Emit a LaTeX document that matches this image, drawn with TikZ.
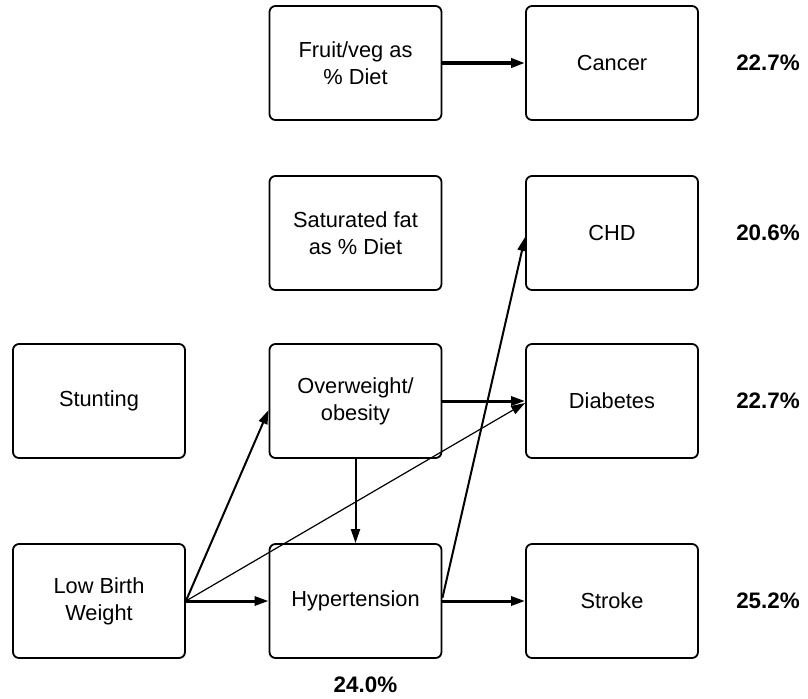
\documentclass[tikz,border=0pt]{standalone}
\usepackage{fontspec}
\setmainfont{Liberation Sans}
\usetikzlibrary{arrows.meta,positioning,calc}

\begin{document}
\begin{tikzpicture}[box/.style={draw, line width=0.9pt, rounded corners=3pt, minimum width=86pt, minimum height=57pt, align=center, font=\fontsize{10.9}{13.5}\selectfont}, pct/.style={font=\bfseries\fontsize{11.2}{13}\selectfont}, on grid, node distance=128.25pt, >={Triangle[length=7pt,width=4.5pt]}]
  \useasboundingbox (0,0) rectangle (404pt,-349pt);
  % Boxes, column by column from the top
  \node[box] (fruit) at (177.75pt,-31.5pt) {Fruit/veg as\\\% Diet};
  \node[box] (cancer) [right=of fruit] {Cancer};
  \node[box] (satfat) [below=85pt of fruit] {Saturated fat\\as \% Diet};
  \node[box] (chd) [right=of satfat] {CHD};
  \node[box] (obese) [below=84pt of satfat] {Overweight/\\obesity};
  \node[box] (stunt) [left=of obese] {Stunting};
  \node[box] (diab) [right=of obese] {Diabetes};
  \node[box] (hyper) [below=100pt of obese] {Hypertension};
  \node[box] (lbw) [left=of hyper] {Low Birth\\Weight};
  \node[box] (stroke) [right=of hyper] {Stroke};

  % Percentages
  \node[pct] (pcancer) [right=78pt of cancer] {22.7\%};
  \node[pct] (pchd) [right=78pt of chd] {20.6\%};
  \node[pct] (pdiab) [right=78pt of diab] {22.7\%};
  \node[pct] (pstroke) [right=78pt of stroke] {25.2\%};
  \node[pct] (phyper) [below=42pt of hyper, xshift=5pt] {24.0\%};

  % Arrows
  \draw[->, line width=1.8pt] (fruit) -- (cancer);
  \draw[->, line width=1.5pt] (obese) -- (diab);
  \draw[->, line width=1.5pt] (lbw) -- (hyper);
  \draw[->, line width=1.5pt] (hyper) -- (stroke);
  \draw[->, line width=1pt] (lbw.east) -- ($(obese.west)+(0,-4.5pt)$);
  \draw[->, line width=1pt] (obese) -- (hyper);
  \draw[->, line width=1pt] ($(hyper.east)+(0,1.5pt)$) -- ($(chd.west)+(0,-2pt)$);
  \draw[->, line width=0.6pt] (lbw.east) -- ($(diab.west)+(0,-1pt)$);
\end{tikzpicture}
\end{document}
